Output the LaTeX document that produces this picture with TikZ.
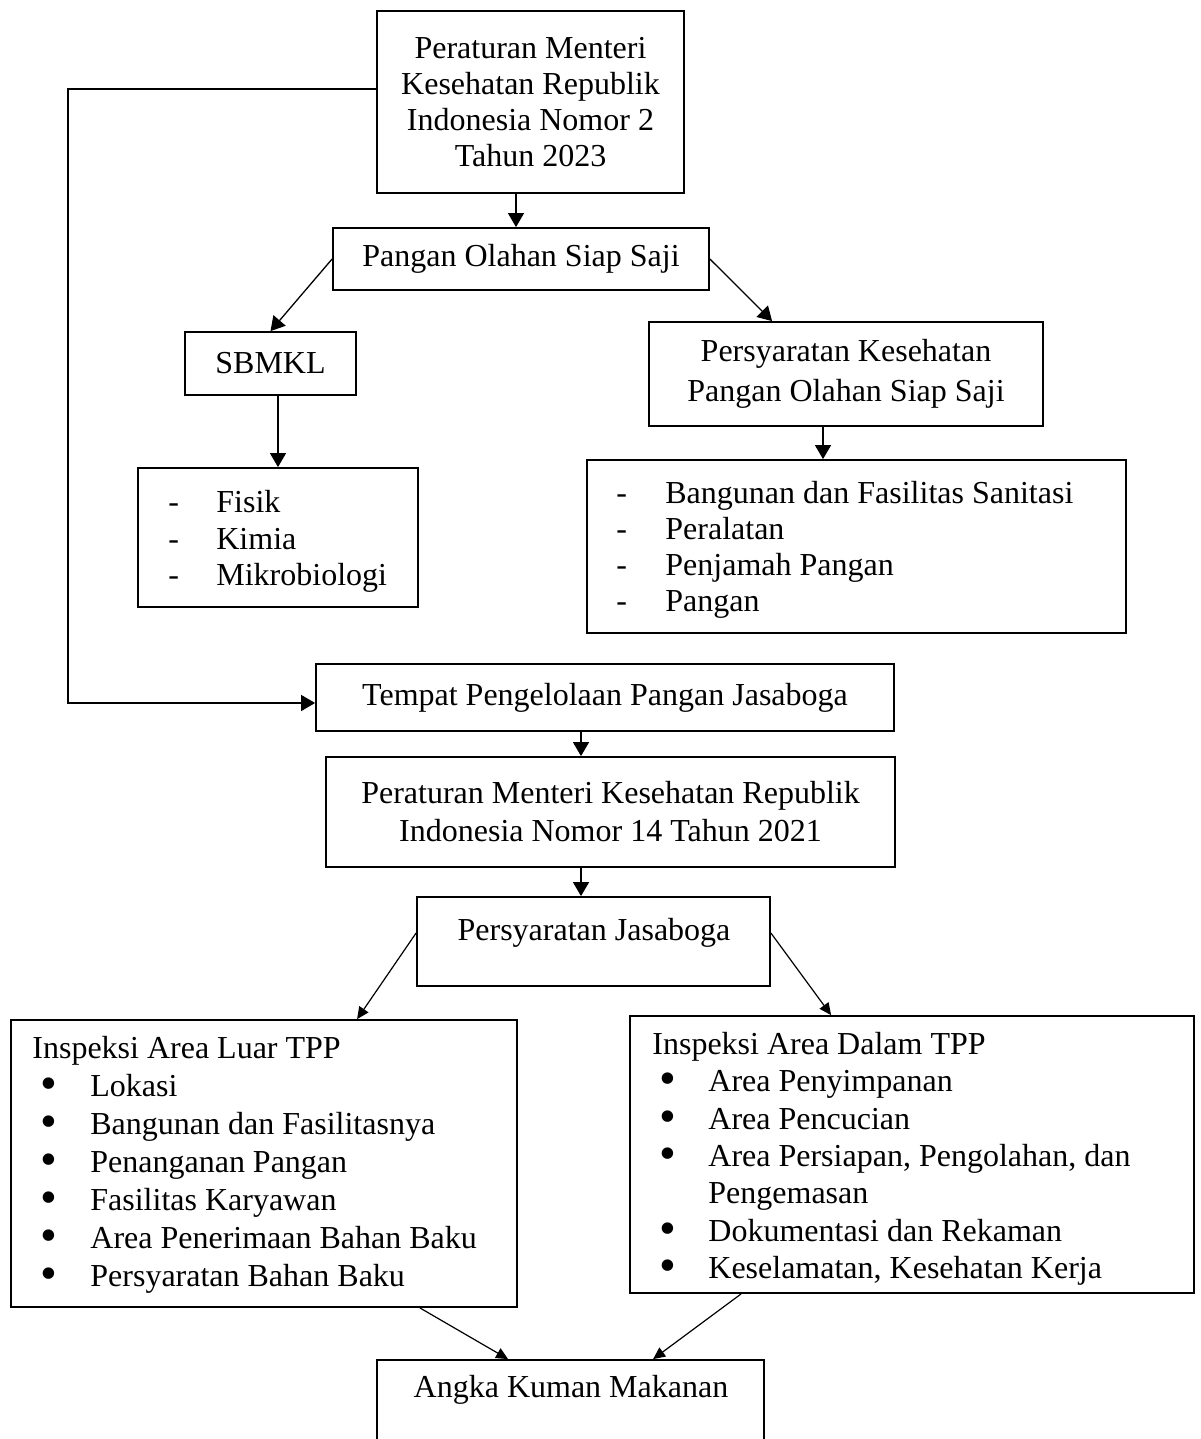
\documentclass[tikz,border=0pt]{standalone}
\usepackage{fontspec}
\usepackage{graphicx}
\setmainfont{Liberation Serif}
\usetikzlibrary{arrows.meta,calc}
\newcommand{\bigbul}{\raisebox{-0.1em}{\scalebox{1.5}{\textbullet}}}
\begin{document}
\begin{tikzpicture}[x=0.5pt,y=-0.5pt,
  box/.style={draw, line width=0.9pt, inner sep=0pt, align=center, font=\fontsize{16}{18}\selectfont},
  txt/.style={inner sep=0pt, font=\fontsize{16}{18}\selectfont},
  listtxt/.style={inner sep=0pt, align=left, anchor=west},
  conn/.style={line width=0.65pt, -{Triangle[length=7pt,width=8pt]}},
  connsm/.style={line width=0.6pt, -{Triangle[length=6pt,width=5.5pt]}}]
\useasboundingbox (0,0) rectangle (1200,1439);
\fill[white] (0,0) rectangle (1200,1439);
\clip (0,0) rectangle (1200,1439);

% boxes
\node[box, minimum width=153.5pt, minimum height=91pt] (top) at (530.5,102)
  {Peraturan Menteri\\Kesehatan Republik\\Indonesia Nomor 2\\Tahun 2023};
\node[box, minimum width=188pt, minimum height=31pt] (pangan) at (521,259) {Pangan Olahan Siap Saji};
\node[box, minimum width=85.5pt, minimum height=31.5pt] (sbmkl) at (270.5,363.5) {SBMKL};
\node[box, minimum width=140pt, minimum height=69.5pt] (fisik) at (278,537.5) {};
\node[listtxt, font=\fontsize{16}{18.25}\selectfont] (fisiklist) at (168,541.7)
  {\makebox[24pt][l]{-}Fisik\\\makebox[24pt][l]{-}Kimia\\\makebox[24pt][l]{-}Mikrobiologi};
\node[box, minimum width=197pt, minimum height=52pt, font=\fontsize{16}{20}\selectfont] (pkes) at (846,374)
  {Persyaratan Kesehatan\\Pangan Olahan Siap Saji};
\node[box, minimum width=269.5pt, minimum height=86.5pt] (bang) at (856.5,546.5) {};
\node[listtxt, font=\fontsize{16}{18}\selectfont] (banglist) at (616,549.5)
  {\makebox[24.5pt][l]{-}Bangunan dan Fasilitas Sanitasi\\\makebox[24.5pt][l]{-}Peralatan\\\makebox[24.5pt][l]{-}Penjamah Pangan\\\makebox[24.5pt][l]{-}Pangan};
\node[box, minimum width=289pt, minimum height=33.5pt] (tempat) at (605,697.5) {Tempat Pengelolaan Pangan Jasaboga};
\node[box, minimum width=284.5pt, minimum height=55pt, font=\fontsize{16}{19}\selectfont] (per14) at (610.5,812)
  {Peraturan Menteri Kesehatan Republik\\Indonesia Nomor 14 Tahun 2021};
\node[box, minimum width=176.5pt, minimum height=44.5pt] (pjasa) at (593.5,941.5) {};
\node[txt] (pjasatxt) at (594,933) {Persyaratan Jasaboga};
\node[box, minimum width=253pt, minimum height=143.5pt] (luar) at (264,1163.5) {};
\node[listtxt, font=\fontsize{16}{19}\selectfont] (luarlist) at (32,1164.4)
  {Inspeksi Area Luar TPP\\
   \hspace*{4pt}\makebox[25pt][l]{\bigbul}Lokasi\\
   \hspace*{4pt}\makebox[25pt][l]{\bigbul}Bangunan dan Fasilitasnya\\
   \hspace*{4pt}\makebox[25pt][l]{\bigbul}Penanganan Pangan\\
   \hspace*{4pt}\makebox[25pt][l]{\bigbul}Fasilitas Karyawan\\
   \hspace*{4pt}\makebox[25pt][l]{\bigbul}Area Penerimaan Bahan Baku\\
   \hspace*{4pt}\makebox[25pt][l]{\bigbul}Persyaratan Bahan Baku};
\node[box, minimum width=282pt, minimum height=138.5pt] (dalam) at (912,1154.5) {};
\node[listtxt, font=\fontsize{16}{18.7}\selectfont] (dalamlist) at (652,1158.7)
  {Inspeksi Area Dalam TPP\\
   \hspace*{3.5pt}\makebox[24.5pt][l]{\bigbul}Area Penyimpanan\\
   \hspace*{3.5pt}\makebox[24.5pt][l]{\bigbul}Area Pencucian\\
   \hspace*{3.5pt}\makebox[24.5pt][l]{\bigbul}Area Persiapan, Pengolahan, dan\\
   \hspace*{3.5pt}\makebox[24.5pt][l]{}Pengemasan\\
   \hspace*{3.5pt}\makebox[24.5pt][l]{\bigbul}Dokumentasi dan Rekaman\\
   \hspace*{3.5pt}\makebox[24.5pt][l]{\bigbul}Keselamatan, Kesehatan Kerja};
\node[box, minimum width=193.5pt, minimum height=50pt] (angka) at (570.5,1410) {};
\node[txt] (angkatxt) at (571,1390) {Angka Kuman Makanan};

% connectors
\draw[conn] ([xshift=-7.25pt]top.south) -- ([xshift=-7.25pt]top.south |- pangan.north);
\draw[conn] ([yshift=6.5pt]top.west) -- ++(-154pt,0) |- ([yshift=-2.75pt]tempat.west);
\draw[conn] (pangan.west) -- (sbmkl.north);
\draw[conn] (pangan.east) -- ([xshift=62pt]pkes.north west);
\draw[conn] (sbmkl.south -| fisik.north) -- (fisik.north);
\draw[conn] ([xshift=-11.5pt]pkes.south) -- ([xshift=-11.5pt]pkes.south |- bang.north);
\draw[conn] ([xshift=-12pt]tempat.south) -- ([xshift=-12pt]tempat.south |- per14.north);
\draw[conn] ([xshift=-14.75pt]per14.south) -- ([xshift=-14.75pt]per14.south |- pjasa.north);
\draw[connsm] ([yshift=4.25pt]pjasa.west) -- ([xshift=173.5pt]luar.north west);
\draw[connsm] ([yshift=4.25pt]pjasa.east) -- ([xshift=101pt]dalam.north west);
\draw[connsm] ([xshift=-49pt]luar.south east) -- ([xshift=66pt]angka.north west);
\draw[connsm] ([xshift=56pt]dalam.south west) -- ([xshift=138.5pt]angka.north west);
\end{tikzpicture}
\end{document}
